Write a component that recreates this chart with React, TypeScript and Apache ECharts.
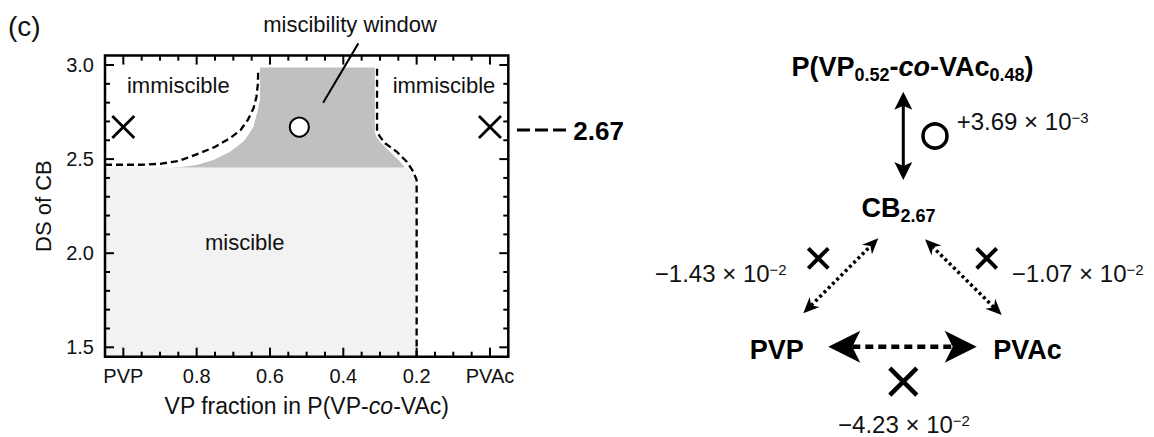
import React, { useEffect, useRef } from "react";
import * as echarts from "echarts";

const FONT = "Liberation Sans, Arial, Helvetica, sans-serif";

// ---------- phase diagram data (x = VP fraction, y = DS of CB) ----------
const xRange = [-0.05, 1.05];
const yRange = [1.45, 3.05];
const xMajorTicks = [0, 0.2, 0.4, 0.6, 0.8, 1.0];
const xMinorTicks = [0.05, 0.1, 0.15, 0.25, 0.3, 0.35, 0.45, 0.5, 0.55, 0.65, 0.7, 0.75, 0.85, 0.9, 0.95];
const yMajorTicks = [1.5, 2.0, 2.5, 3.0];
const yMinorTicks = [1.6, 1.7, 1.8, 1.9, 2.1, 2.2, 2.3, 2.4, 2.6, 2.7, 2.8, 2.9];
const xEndValues = [1, 0];
const xEndNames = ["PVP", "PVAc"];

const miscibleRegion = [
  [1.05, 1.45], [1.05, 2.455], [0.236, 2.455], [0.222, 2.446], [0.211, 2.43],
  [0.204, 2.41], [0.2, 2.385], [0.2, 1.45],
];
const windowRegion = [
  [0.627, 2.987], [0.627, 2.82], [0.632, 2.77], [0.645, 2.672], [0.66, 2.625],
  [0.673, 2.592], [0.709, 2.539], [0.754, 2.495], [0.8, 2.469], [0.836, 2.46],
  [0.873, 2.455], [0.232, 2.455], [0.245, 2.486], [0.273, 2.539], [0.3, 2.592],
  [0.31, 2.62], [0.314, 2.646], [0.314, 2.987],
];
const leftBoundary = [
  [1.05, 2.47], [0.95, 2.47], [0.9, 2.475], [0.85, 2.49], [0.8, 2.525], [0.75, 2.565],
  [0.71, 2.61], [0.68, 2.655], [0.66, 2.71], [0.645, 2.77], [0.637, 2.83], [0.633, 2.9],
  [0.632, 2.98],
];
const rightBoundary = [
  [0.308, 2.98], [0.308, 2.646], [0.3, 2.619], [0.286, 2.584], [0.254, 2.539],
  [0.227, 2.486], [0.209, 2.433], [0.2, 2.389], [0.2, 1.45],
];
const immiscibleBlends = [[1.0, 2.67], [0.0, 2.67]];
const miscibleBlends = [[0.52, 2.67]];
const calloutLine = [[0.455, 2.8], [0.359, 3.115]];

const regionLabels = ["immiscible", "immiscible", "miscible", "miscibility window"];
const dsValueLabel = "2.67";

// ---------- interaction diagram texts ----------
const nodeLabels = ["P(VP{s|0.52}-{i|co}-VAc{s|0.48})", "CB{s|2.67}", "PVP", "PVAc"];
const chiLabels = [
  "+3.69 × 10{p|−3}", // copolymer – CB
  "−1.43 × 10{p|−2}", // PVP – CB
  "−1.07 × 10{p|−2}", // PVAc – CB
  "−4.23 × 10{p|−2}", // PVP – PVAc
];

const black = "#000";

// ---------- graphic helpers ----------
function seg(x1: number, y1: number, x2: number, y2: number, w: number) {
  return { type: "line", shape: { x1, y1, x2, y2 }, style: { stroke: "#000", lineWidth: w } };
}

function arrowHead(tip: number[], from: number[], L: number, W: number, N: number) {
  const dx = tip[0] - from[0];
  const dy = tip[1] - from[1];
  const len = Math.hypot(dx, dy);
  const ux = dx / len;
  const uy = dy / len;
  const nx = -uy;
  const ny = ux;
  return {
    type: "polygon",
    shape: {
      points: [
        tip,
        [tip[0] - ux * L + nx * W, tip[1] - uy * L + ny * W],
        [tip[0] - ux * (L - N), tip[1] - uy * (L - N)],
        [tip[0] - ux * L - nx * W, tip[1] - uy * L - ny * W],
      ],
    },
    style: { fill: black },
  };
}

function doubleArrow(a: number[], b: number[], L: number, W: number, N: number, lineWidth: number, dash?: number[]) {
  const dx = b[0] - a[0];
  const dy = b[1] - a[1];
  const len = Math.hypot(dx, dy);
  const ux = dx / len;
  const uy = dy / len;
  const inset = L - N;
  return [
    {
      type: "line",
      shape: { x1: a[0] + ux * inset, y1: a[1] + uy * inset, x2: b[0] - ux * inset, y2: b[1] - uy * inset },
      style: dash ? { stroke: black, lineWidth, lineDash: dash } : { stroke: black, lineWidth },
    },
    arrowHead(a, b, L, W, N),
    arrowHead(b, a, L, W, N),
  ];
}

function cross(cx: number, cy: number, h: number, w: number) {
  return [seg(cx - h, cy - h, cx + h, cy + h, w), seg(cx + h, cy - h, cx - h, cy + h, w)];
}

function text(x: number, y: number, content: string, opts: any = {}) {
  const align = opts.align || "center";
  const style: any = {
    text: content,
    fontSize: opts.fontSize || 22,
    fontWeight: opts.fontWeight || "normal",
    fontFamily: FONT,
    fill: opts.fill || "#111",
    align,
    verticalAlign: "middle",
  };
  if (opts.lineHeight) style.lineHeight = opts.lineHeight;
  if (opts.rich) style.rich = opts.rich;
  return { type: "text", x, y, style };
}

const boldSub = {
  s: { fontSize: 18, fontWeight: "bold", fontFamily: FONT, fill: black, height: 14, verticalAlign: "bottom" },
  i: { fontSize: 27, fontWeight: "bold", fontStyle: "italic", fontFamily: FONT, fill: black },
};
const supRich = {
  p: { fontSize: 15, fontFamily: FONT, fill: "#111", height: 18, lineHeight: 18, verticalAlign: "top" },
};

export default function App() {
  const ref = useRef<HTMLDivElement>(null);

  useEffect(() => {
    if (!ref.current) return;
    const chart = echarts.init(ref.current, undefined, { renderer: "svg" });

    const option: any = {
      animation: false,
      backgroundColor: "#fff",
      grid: { left: 105, top: 55.6, width: 403.3, height: 301.1 },
      xAxis: {
        type: "value",
        min: xRange[0],
        max: xRange[1],
        inverse: true,
        axisLine: { show: false },
        axisTick: { show: false },
        splitLine: { show: false },
        axisLabel: {
          customValues: xMajorTicks,
          margin: 9,
          fontSize: 20,
          fontFamily: FONT,
          color: "#111",
          formatter: (v: number) => {
            const k = xEndValues.findIndex((e) => Math.abs(e - v) < 1e-6);
            return k >= 0 ? xEndNames[k] : v.toFixed(1);
          },
        },
        name: "VP fraction in P(VP-{i|co}-VAc)",
        nameLocation: "middle",
        nameGap: 38,
        nameTextStyle: {
          fontSize: 23,
          fontFamily: FONT,
          color: "#111",
          rich: { i: { fontStyle: "italic", fontSize: 23, fontFamily: FONT, color: "#111" } },
        },
      },
      yAxis: {
        type: "value",
        min: yRange[0],
        max: yRange[1],
        axisLine: { show: false },
        axisTick: { show: false },
        splitLine: { show: false },
        axisLabel: {
          customValues: yMajorTicks,
          margin: 11,
          fontSize: 20,
          fontFamily: FONT,
          color: "#111",
          formatter: (v: number) => v.toFixed(1),
        },
        name: "DS of CB",
        nameLocation: "middle",
        nameGap: 51,
        nameTextStyle: { fontSize: 22, fontFamily: FONT, color: "#111" },
      },
      series: [
        {
          type: "scatter",
          z: 4,
          symbol: "circle",
          symbolSize: 19,
          data: miscibleBlends,
          itemStyle: { color: "#fff", borderColor: black, borderWidth: 2, opacity: 1 },
        },
      ],
    };

    chart.setOption(option);

    // everything else placed through the axis scales
    const px = (p: number[]) => chart.convertToPixel({ gridIndex: 0 }, p) as number[];
    const els: any[] = [];
    els.push({ type: "polygon", shape: { points: miscibleRegion.map((p) => px(p)) }, style: { fill: "#f2f2f2" } });
    els.push({ type: "polygon", shape: { points: windowRegion.map((p) => px(p)) }, style: { fill: "#c0c0c0" } });

    const cornerA = px([xRange[1], yRange[1]]);
    const cornerB = px([xRange[0], yRange[0]]);
    const left = Math.min(cornerA[0], cornerB[0]);
    const right = Math.max(cornerA[0], cornerB[0]);
    const top = Math.min(cornerA[1], cornerB[1]);
    const bottom = Math.max(cornerA[1], cornerB[1]);
    const addX = (vals: number[], len: number) =>
      vals.forEach((v) => {
        const x = px([v, yRange[0]])[0];
        els.push(seg(x, bottom, x, bottom - len, 2), seg(x, top, x, top + len, 2));
      });
    const addY = (vals: number[], len: number) =>
      vals.forEach((v) => {
        const y = px([xRange[1], v])[1];
        els.push(seg(left, y, left + len, y, 2), seg(right, y, right - len, y, 2));
      });
    addX(xMajorTicks, 9);
    addX(xMinorTicks, 5);
    addY(yMajorTicks, 9);
    addY(yMinorTicks, 5);
    els.push({
      type: "rect",
      shape: { x: left, y: top, width: right - left, height: bottom - top },
      style: { fill: null, stroke: "#000", lineWidth: 2.5 },
    });

    els.push({
      type: "polyline",
      shape: { points: leftBoundary.map((p) => px(p)) },
      style: { fill: null, stroke: black, lineWidth: 2.3, lineDash: [7, 4] },
    });
    els.push({
      type: "polyline",
      shape: { points: rightBoundary.map((p) => px(p)) },
      style: { fill: null, stroke: black, lineWidth: 2.3, lineDash: [7, 4] },
    });
    const c0 = px(calloutLine[0]);
    const c1 = px(calloutLine[1]);
    els.push(seg(c0[0], c0[1], c1[0], c1[1], 2));
    immiscibleBlends.forEach((p) => {
      const q = px(p);
      els.push(...cross(q[0], q[1], 11, 2.8));
    });

    els.push(
      text(8, 26, "(c)", { fontSize: 28, align: "left" }),
      text(178.3, 85.7, regionLabels[0], { fontSize: 22 }),
      text(444, 85.7, regionLabels[1], { fontSize: 22 }),
      text(244.7, 242.4, regionLabels[2], { fontSize: 22 }),
      text(350, 24.1, regionLabels[3], { fontSize: 22 }),
      {
        type: "line",
        shape: { x1: 517, y1: 130, x2: 570, y2: 130 },
        style: { stroke: black, lineWidth: 3, lineDash: [13, 5] },
      },
      text(573.3, 131, dsValueLabel, { fontSize: 26, fontWeight: "bold", align: "left", fill: black }),

      // interaction diagram
      text(912.5, 66.8, nodeLabels[0], { fontSize: 27, fontWeight: "bold", fill: black, lineHeight: 30, rich: boldSub }),
      text(898.5, 207.5, nodeLabels[1], { fontSize: 27, fontWeight: "bold", fill: black, lineHeight: 30, rich: boldSub }),
      text(776.7, 350, nodeLabels[2], { fontSize: 27, fontWeight: "bold", fill: black }),
      text(1027.5, 350, nodeLabels[3], { fontSize: 27, fontWeight: "bold", fill: black }),

      ...doubleArrow([903.3, 91.7], [903.3, 180], 18, 9, 4, 3),
      { type: "circle", shape: { cx: 935, cy: 136, r: 12 }, style: { fill: "#fff", stroke: black, lineWidth: 3.5 } },
      text(956.7, 121.7, chiLabels[0], { fontSize: 24, align: "left", lineHeight: 26, rich: supRich }),

      ...doubleArrow([803.3, 313.3], [878.3, 238.3], 16, 7, 5, 3.5, [3, 3]),
      ...cross(818.3, 258.3, 10, 4),
      text(786.7, 273.4, chiLabels[1], { fontSize: 24, align: "right", lineHeight: 26, rich: supRich }),

      ...doubleArrow([1001.7, 315], [925, 239.3], 16, 7, 5, 3.5, [3, 3]),
      ...cross(986.7, 258.3, 10, 4),
      text(1011.7, 273.4, chiLabels[2], { fontSize: 24, align: "left", lineHeight: 26, rich: supRich }),

      ...doubleArrow([828.3, 346.7], [976.7, 346.7], 32, 16, 8, 4.5, [8, 5]),
      ...cross(903.3, 381.7, 13.5, 4.5),
      text(904, 424.7, chiLabels[3], { fontSize: 24, align: "center", lineHeight: 26, rich: supRich })
    );

    chart.setOption({ graphic: { elements: els } });
    return () => chart.dispose();
  }, []);

  return (
    <div
      ref={ref}
      style={{ position: "fixed", left: 0, top: 0, width: 1154, height: 437, background: "#fff" }}
    />
  );
}
